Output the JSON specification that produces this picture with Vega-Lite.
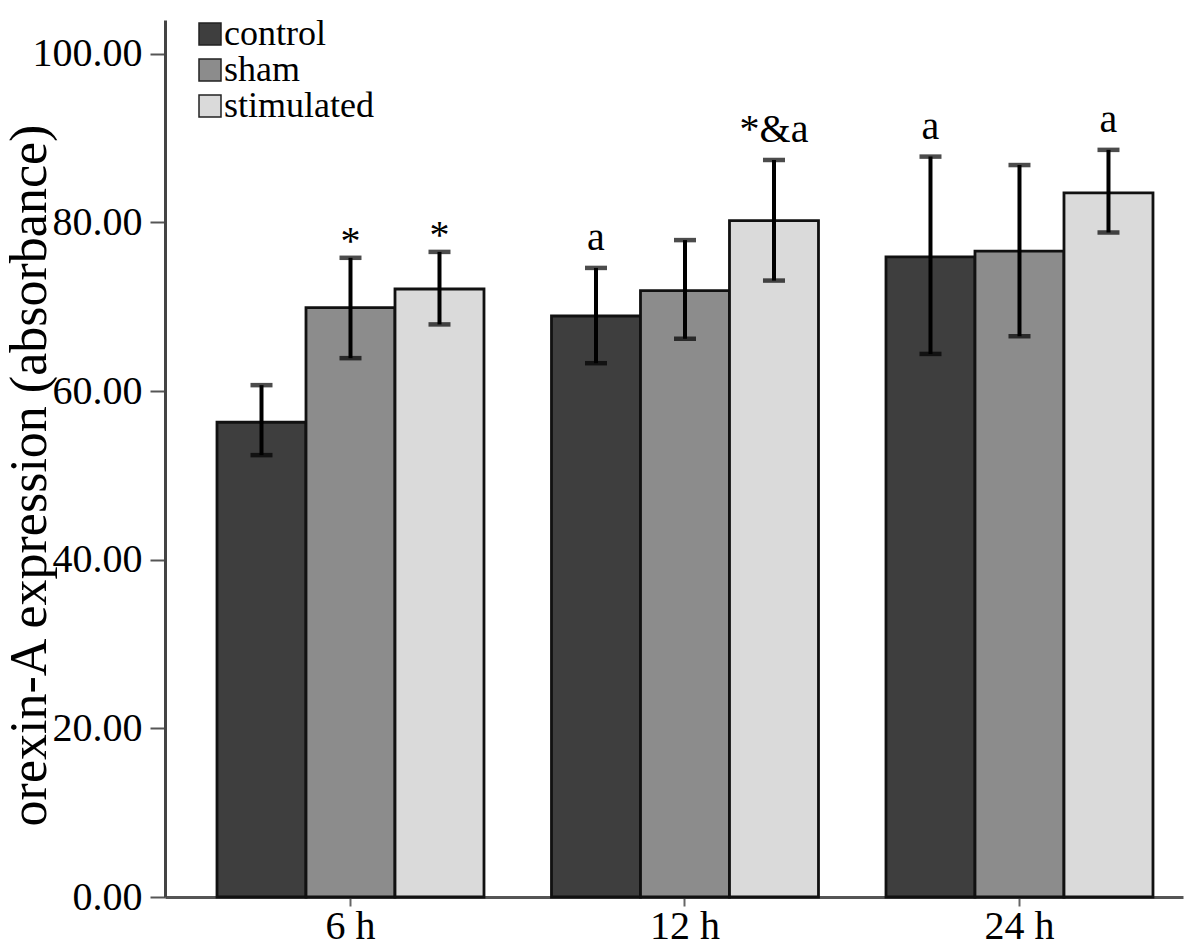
{
  "$schema": "https://vega.github.io/schema/vega-lite/v6.json",
  "description": "Orexin-A expression by group and time point, grouped bars with error bars.",
  "autosize": "none",
  "width": 1018,
  "height": 877,
  "padding": {"left": 165, "top": 20, "right": 10, "bottom": 51},
  "background": "white",
  "config": {
    "view": {"stroke": null},
    "font": "Liberation Serif"
  },
  "data": {
    "values": [
      {"time": "6 h", "group": "control", "mean": 56.3, "lo": 52.4, "hi": 60.7, "note": ""},
      {"time": "6 h", "group": "sham", "mean": 69.9, "lo": 63.9, "hi": 75.8, "note": "*"},
      {"time": "6 h", "group": "stimulated", "mean": 72.1, "lo": 67.9, "hi": 76.5, "note": "*"},
      {"time": "12 h", "group": "control", "mean": 68.9, "lo": 63.3, "hi": 74.6, "note": "a"},
      {"time": "12 h", "group": "sham", "mean": 71.9, "lo": 66.2, "hi": 77.9, "note": ""},
      {"time": "12 h", "group": "stimulated", "mean": 80.2, "lo": 73.1, "hi": 87.4, "note": "*&a"},
      {"time": "24 h", "group": "control", "mean": 75.9, "lo": 64.4, "hi": 87.8, "note": "a"},
      {"time": "24 h", "group": "sham", "mean": 76.6, "lo": 66.5, "hi": 86.8, "note": ""},
      {"time": "24 h", "group": "stimulated", "mean": 83.5, "lo": 78.8, "hi": 88.6, "note": "a"}
    ]
  },
  "encoding": {
    "x": {
      "field": "time",
      "type": "nominal",
      "sort": ["6 h", "12 h", "24 h"],
      "scale": {"paddingInner": 0.2018, "paddingOuter": 0.1226, "align": 0.634},
      "axis": {
        "title": null,
        "labelAngle": 0,
        "labelFont": "Liberation Serif",
        "labelFontSize": 40,
        "labelColor": "black",
        "labelPadding": 0,
        "tickSize": 9,
        "tickColor": "#666",
        "tickWidth": 2,
        "domainColor": "#555",
        "domainWidth": 3
      }
    },
    "xOffset": {
      "field": "group",
      "type": "nominal",
      "sort": ["control", "sham", "stimulated"],
      "scale": {"paddingInner": 0, "paddingOuter": 0}
    }
  },
  "layer": [
    {
      "mark": {"type": "bar", "stroke": "#111", "strokeWidth": 2.8},
      "encoding": {
        "y": {
          "field": "mean",
          "type": "quantitative",
          "scale": {"domain": [0, 104], "nice": false},
          "axis": {
            "values": [0, 20, 40, 60, 80, 100],
            "format": ".2f",
            "grid": false,
            "title": "orexin-A expression (absorbance)",
            "titleFont": "Liberation Serif",
            "titleFontSize": 52,
            "titleFontWeight": "normal",
            "titleColor": "black",
            "titleAngle": -90,
            "titleBaseline": "alphabetic",
            "titleAlign": "center",
            "titleX": -120,
            "titleY": 455,
            "labelFont": "Liberation Serif",
            "labelFontSize": 40,
            "labelColor": "black",
            "labelPadding": 8,
            "tickSize": 15,
            "tickColor": "#555",
            "tickWidth": 2,
            "domainColor": "#444",
            "domainWidth": 3
          }
        },
        "color": {
          "field": "group",
          "type": "nominal",
          "sort": ["control", "sham", "stimulated"],
          "scale": {
            "domain": ["control", "sham", "stimulated"],
            "range": ["#3e3e3e", "#8c8c8c", "#dadada"]
          },
          "legend": {
            "title": null,
            "orient": "none",
            "legendX": 27,
            "legendY": -4,
            "padding": 0,
            "symbolType": "square",
            "symbolSize": 484,
            "symbolStrokeColor": "#222",
            "symbolStrokeWidth": 1.5,
            "labelFont": "Liberation Serif",
            "labelFontSize": 36,
            "labelColor": "black",
            "labelOffset": -4,
            "labelLimit": 400,
            "rowPadding": 0
          }
        }
      }
    },
    {
      "mark": {"type": "rule", "color": "black", "strokeWidth": 4},
      "encoding": {
        "y": {"field": "lo", "type": "quantitative"},
        "y2": {"field": "hi"}
      }
    },
    {
      "mark": {"type": "tick", "color": "black", "thickness": 4.5, "size": 22},
      "encoding": {
        "y": {"field": "lo", "type": "quantitative"}
      }
    },
    {
      "mark": {"type": "tick", "color": "black", "thickness": 4.5, "size": 22},
      "encoding": {
        "y": {"field": "hi", "type": "quantitative"}
      }
    },
    {
      "transform": [{"filter": "datum.note === '*'"}],
      "mark": {"type": "text", "font": "Liberation Serif", "fontSize": 40, "baseline": "alphabetic", "dy": -4, "color": "black"},
      "encoding": {
        "y": {"field": "hi", "type": "quantitative"},
        "text": {"field": "note"}
      }
    },
    {
      "transform": [{"filter": "datum.note !== '' && datum.note !== '*'"}],
      "mark": {"type": "text", "font": "Liberation Serif", "fontSize": 40, "baseline": "alphabetic", "dy": -18, "color": "black"},
      "encoding": {
        "y": {"field": "hi", "type": "quantitative"},
        "text": {"field": "note"}
      }
    }
  ]
}
